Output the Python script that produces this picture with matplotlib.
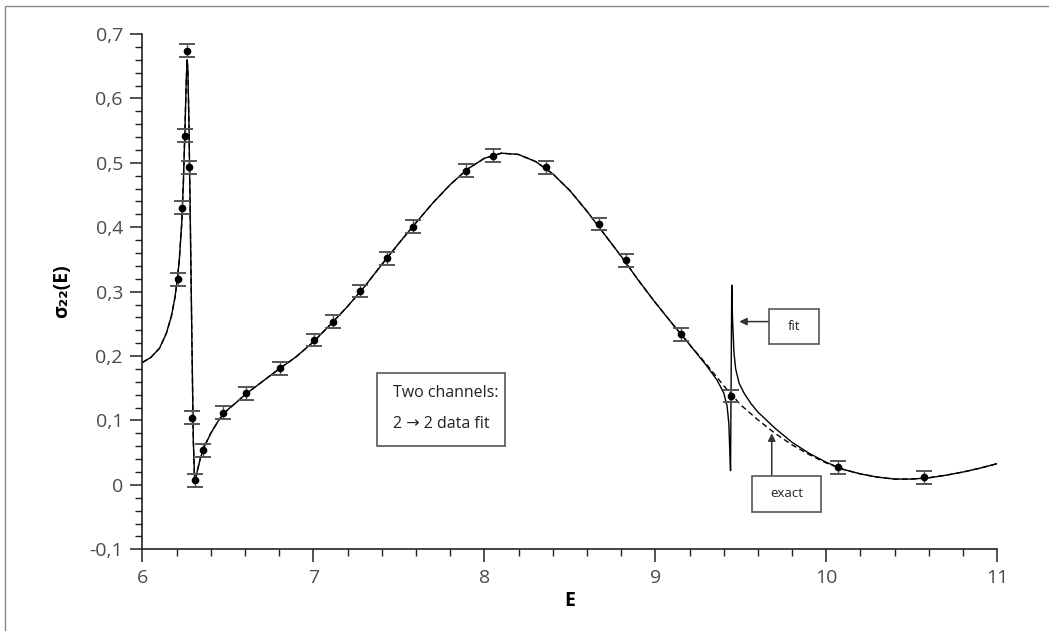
import matplotlib
matplotlib.use("Agg")
import matplotlib.pyplot as plt
from matplotlib.patches import Rectangle
from matplotlib.ticker import MultipleLocator

# measured 2 -> 2 cross section with error bars
E_DATA = [6.211, 6.234, 6.250, 6.260, 6.275, 6.291, 6.305, 6.357, 6.470, 6.605,
          6.805, 7.004, 7.117, 7.273, 7.429, 7.585, 7.891, 8.053, 8.359, 8.671,
          8.827, 9.150, 9.443, 10.070, 10.571]
SIGMA_DATA = [0.319, 0.430, 0.542, 0.674, 0.493, 0.104, 0.007, 0.054, 0.112, 0.142,
              0.181, 0.225, 0.253, 0.301, 0.352, 0.401, 0.488, 0.511, 0.493, 0.405,
              0.349, 0.234, 0.138, 0.027, 0.012]
SIGMA_ERR = [0.010] * len(E_DATA)

# exact curve (dashed)
E_EXACT = [6.00, 6.05, 6.10, 6.14, 6.17, 6.19, 6.20, 6.215, 6.23, 6.24, 6.25, 6.257,
           6.262, 6.266, 6.272, 6.28, 6.29, 6.298, 6.306, 6.312, 6.32, 6.34, 6.36,
           6.40, 6.45, 6.50, 6.55, 6.60, 6.70, 6.80, 6.90, 7.00, 7.10, 7.20, 7.30,
           7.40, 7.50, 7.60, 7.70, 7.80, 7.90, 8.00, 8.10, 8.20, 8.30, 8.40, 8.50,
           8.60, 8.70, 8.80, 8.90, 9.00, 9.10, 9.20, 9.30, 9.40, 9.50, 9.60, 9.70,
           9.80, 9.90, 10.00, 10.10, 10.20, 10.30, 10.40, 10.50, 10.60, 10.70,
           10.80, 10.90, 11.00]
SIGMA_EXACT = [0.190, 0.198, 0.212, 0.235, 0.262, 0.290, 0.310, 0.345, 0.405, 0.470,
               0.560, 0.630, 0.660, 0.645, 0.570, 0.420, 0.220, 0.070, 0.004, 0.008,
               0.020, 0.042, 0.058, 0.080, 0.102, 0.117, 0.128, 0.140, 0.160, 0.180,
               0.199, 0.222, 0.249, 0.277, 0.308, 0.342, 0.375, 0.407, 0.438, 0.466,
               0.490, 0.507, 0.515, 0.513, 0.502, 0.483, 0.457, 0.425, 0.390, 0.355,
               0.318, 0.283, 0.250, 0.218, 0.187, 0.154, 0.124, 0.101, 0.080, 0.062,
               0.047, 0.034, 0.024, 0.017, 0.012, 0.009, 0.009, 0.011, 0.015, 0.020,
               0.026, 0.033]

# fitted curve (solid) with the narrow resonance near E = 9.44
E_FIT = [6.00, 6.05, 6.10, 6.14, 6.17, 6.19, 6.20, 6.215, 6.23, 6.24, 6.25, 6.257,
         6.262, 6.266, 6.272, 6.28, 6.29, 6.298, 6.306, 6.312, 6.32, 6.34, 6.36,
         6.40, 6.45, 6.50, 6.55, 6.60, 6.70, 6.80, 6.90, 7.00, 7.10, 7.20, 7.30,
         7.40, 7.50, 7.60, 7.70, 7.80, 7.90, 8.00, 8.10, 8.20, 8.30, 8.40, 8.50,
         8.60, 8.70, 8.80, 8.90, 9.00, 9.10, 9.20, 9.30, 9.36, 9.40, 9.42, 9.43,
         9.436, 9.440, 9.447, 9.452, 9.46, 9.47, 9.49, 9.52, 9.56, 9.60, 9.70,
         9.80, 9.90, 10.00, 10.10, 10.20, 10.30, 10.40, 10.50, 10.60, 10.70,
         10.80, 10.90, 11.00]
SIGMA_FIT = [0.190, 0.198, 0.212, 0.235, 0.262, 0.290, 0.310, 0.345, 0.405, 0.470,
             0.560, 0.630, 0.660, 0.645, 0.570, 0.420, 0.220, 0.070, 0.004, 0.008,
             0.020, 0.042, 0.058, 0.080, 0.102, 0.117, 0.128, 0.140, 0.160, 0.180,
             0.199, 0.222, 0.249, 0.277, 0.308, 0.342, 0.375, 0.407, 0.438, 0.466,
             0.490, 0.507, 0.515, 0.513, 0.502, 0.483, 0.457, 0.425, 0.390, 0.355,
             0.318, 0.283, 0.250, 0.218, 0.185, 0.163, 0.143, 0.122, 0.095, 0.050,
             0.022, 0.310, 0.255, 0.205, 0.180, 0.158, 0.142, 0.126, 0.113, 0.088,
             0.066, 0.049, 0.035, 0.024, 0.017, 0.012, 0.009, 0.009, 0.011, 0.015,
             0.020, 0.026, 0.033]

X_TICKS = [6, 7, 8, 9, 10, 11]
Y_TICKS = [-0.1, 0.0, 0.1, 0.2, 0.3, 0.4, 0.5, 0.6, 0.7]
Y_TICK_LABELS = ["-0,1", "0", "0,1", "0,2", "0,3", "0,4", "0,5", "0,6", "0,7"]

FONT = ["Open Sans", "DejaVu Sans"]
plt.rcParams["font.family"] = FONT

fig = plt.figure(figsize=(10.49, 6.31), dpi=100)
ax = fig.add_axes([0.1357, 0.1295, 0.8150, 0.8166])

ax.plot(E_EXACT, SIGMA_EXACT, color="black", lw=1.0, ls=(0, (4, 2.5)))
ax.plot(E_FIT, SIGMA_FIT, color="black", lw=1.0)
ax.errorbar(E_DATA, SIGMA_DATA, yerr=SIGMA_ERR, fmt="o", color="black", ms=4.5,
            ecolor="#555555", elinewidth=1.0, capsize=6, capthick=1.4, zorder=3)

ax.set_xlim(6, 11)
ax.set_ylim(-0.1, 0.7)
ax.set_xticks(X_TICKS)
ax.set_xticklabels([str(t) for t in X_TICKS])
ax.set_yticks(Y_TICKS)
ax.set_yticklabels(Y_TICK_LABELS)
ax.xaxis.set_minor_locator(MultipleLocator(0.2))
ax.yaxis.set_minor_locator(MultipleLocator(0.02))
ax.tick_params(which="major", length=9, width=1.1, color="#222222",
               labelsize=14, labelcolor="#4a4a4a", pad=5)
ax.tick_params(which="minor", length=5, width=1.0, color="#222222")
for s in ("top", "right"):
    ax.spines[s].set_visible(False)
for s in ("left", "bottom"):
    ax.spines[s].set_color("#222222")
    ax.spines[s].set_linewidth(1.2)

ax.set_xlabel("E", fontsize=14, fontweight="bold", labelpad=3)
ax.set_ylabel("σ₂₂(E)", fontsize=14, fontweight="bold", labelpad=12)

# text boxes
box_kw = dict(fill=True, facecolor="white", edgecolor="#555555", lw=1.2, zorder=4)
ax.add_patch(Rectangle((7.374, 0.060), 0.747, 0.113, **box_kw))
ax.text(7.466, 0.143, "Two channels:", fontsize=11.5, color="#222222",
        va="center", ha="left", zorder=5)
ax.text(7.466, 0.094, "2 → 2 data fit", fontsize=11.5, color="#222222",
        va="center", ha="left", zorder=5)

ax.add_patch(Rectangle((9.665, 0.219), 0.294, 0.054, **box_kw))
ax.text(9.812, 0.246, "fit", fontsize=9.5, color="#222222", ha="center", va="center",
        zorder=5)
ax.annotate("", xy=(9.491, 0.2535), xytext=(9.665, 0.2535),
            arrowprops=dict(arrowstyle="-|>", color="#333333", lw=1.1,
                            mutation_scale=11, shrinkA=0, shrinkB=0))

ax.add_patch(Rectangle((9.567, -0.042), 0.402, 0.056, clip_on=False, **box_kw))
ax.text(9.768, -0.014, "exact", fontsize=9.5, color="#222222", ha="center",
        va="center", zorder=5)
ax.annotate("", xy=(9.681, 0.080), xytext=(9.681, 0.0143),
            arrowprops=dict(arrowstyle="-|>", color="#333333", lw=1.1,
                            mutation_scale=11, shrinkA=0, shrinkB=0))

# outer frame of the picture
fig.add_artist(Rectangle((5 / 1049, -0.1), 1.2, 1.1 - 6 / 631, transform=fig.transFigure,
                         fill=False, edgecolor="#888888", lw=1.0))

fig.savefig("out.png", dpi=100)
